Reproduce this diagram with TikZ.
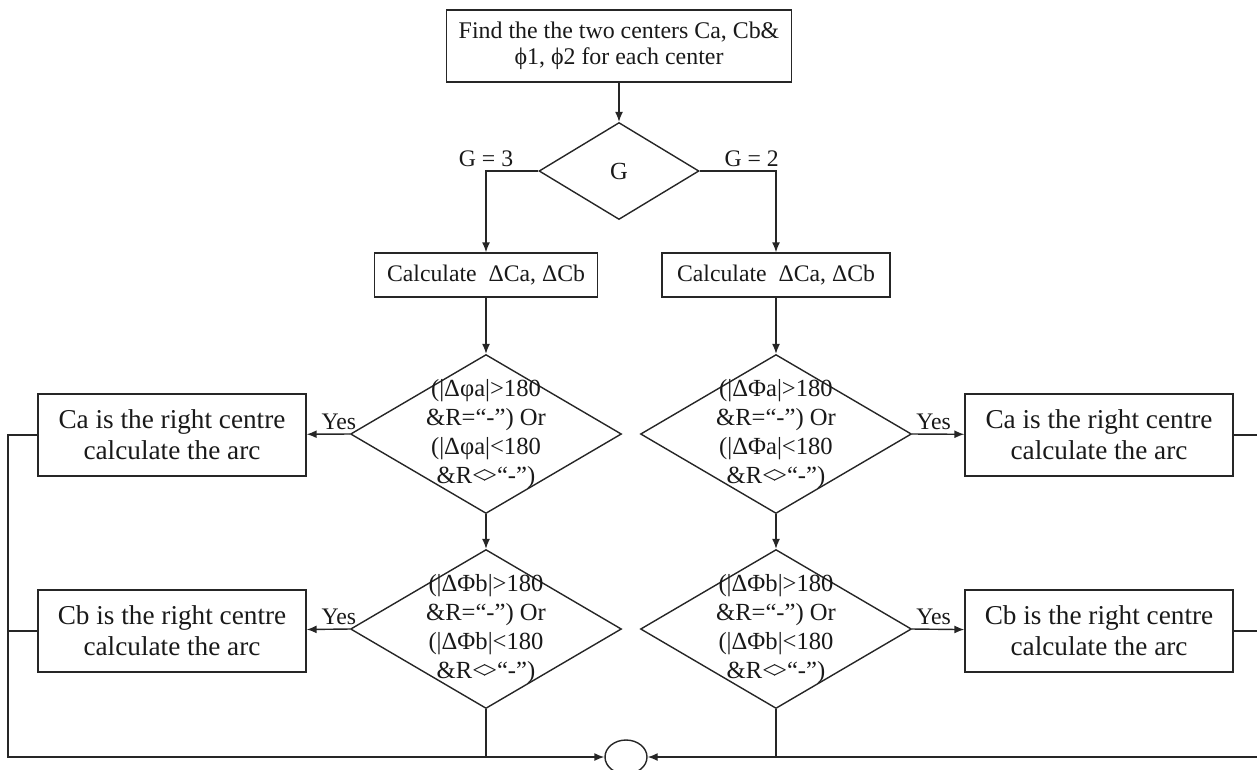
\documentclass[tikz,border=0pt]{standalone}
\usepackage{fontspec}
\setmainfont{Liberation Serif}
\usetikzlibrary{arrows.meta,positioning,shapes.geometric}

\begin{document}
\begin{tikzpicture}[x=0.02cm, y=-0.02cm,
  line/.style={draw=black!85, line width=0.8pt},
  arr/.style={line, -{Latex[length=2mm,width=1.6mm]}},
  box/.style={line, rectangle, align=center, inner sep=2pt, text=black!90},
  side/.style={box, minimum width=5.36cm, minimum height=1.64cm, font=\fontsize{15.5}{17.6}\selectfont},
  test/.style={line, diamond, inner sep=0pt, minimum width=5.42cm, minimum height=3.18cm},
  cond/.style={align=center, inner sep=0pt, text=black!90, font=\fontsize{14}{16.5}\selectfont},
  tag/.style={text=black!90, inner sep=2pt, font=\fontsize{13.5}{16}\selectfont}]
\useasboundingbox (0,0) rectangle (1257,769);
\clip (0,0) rectangle (1257,769);

% start and the G switch
\node[box, minimum width=6.9cm, minimum height=1.44cm, font=\fontsize{13.6}{14.8}\selectfont] (find) at (619,46) {Find the the two centers Ca, Cb\&\\ϕ1, ϕ2 for each center};
\node[line, diamond, inner sep=0pt, minimum width=3.2cm, minimum height=1.94cm, text=black!90, font=\fontsize{14}{16}\selectfont] (g) at (619,171) {G};
\node[box, minimum width=4.46cm, minimum height=0.88cm, font=\fontsize{13.5}{16}\selectfont] (calcL) at (486,275) {Calculate\ \ ΔCa, ΔCb};
\node[box, minimum width=4.56cm, minimum height=0.88cm, font=\fontsize{13.5}{16}\selectfont] (calcR) at (776,275) {Calculate\ \ ΔCa, ΔCb};

% the four tests
\foreach \n/\x/\y/\s in {qaL/486/434/φa, qaR/776/434/Φa, qbL/486/629/Φb, qbR/776/629/Φb}
  \node[test, label={[cond]center:{(|Δ\s|>180\\\&R=“-”) Or\\(|Δ\s|<180\\\&R<\kern-0.12em>“-”)}}] (\n) at (\x,\y) {};

% results
\foreach \n/\x/\y/\c in {caL/172/435/Ca, cbL/172/631/Cb, caR/1099/435/Ca, cbR/1099/631/Cb}
  \node[side] (\n) at (\x,\y) {\c\ is the right centre\\calculate the arc};

\node[line, ellipse, inner sep=0pt, minimum width=0.84cm, minimum height=0.68cm] (join) at (626,757) {};
\coordinate (back) at (8,0);
\coordinate (rim) at (1257,0);

\draw[arr] (find) -- (g);
\draw[arr] (g.west) -| (calcL) node[tag, pos=0.5, above] {G = 3};
\draw[arr] (g.east) -| (calcR) node[tag, pos=0.5, above left, xshift=4pt] {G = 2};
\foreach \s in {L,R} {
  \draw[arr] (calc\s) -- (qa\s);
  \draw[arr] (qa\s) -- (qb\s);
  \draw[line] (qb\s.south) -- (qb\s.south |- join);
}
\draw[arr] (qaL.west) -- (caL) node[tag, pos=0, above left, xshift=6pt] {Yes};
\draw[arr] (qbL.west) -- (cbL) node[tag, pos=0, above left, xshift=6pt] {Yes};
\draw[arr] (qaR.east) -- (caR) node[tag, pos=0, above right] {Yes};
\draw[arr] (qbR.east) -- (cbR) node[tag, pos=0, above right] {Yes};

% back to the join
\draw[arr] (caL.west) -- (caL.west -| back) |- (join.west);
\draw[line] (cbL.west) -- (cbL.west -| back);
\draw[line] (caR.east) -- (caR.east -| rim);
\draw[line] (cbR.east) -- (cbR.east -| rim);
\draw[arr] (join.east -| rim) -- (join.east);
\end{tikzpicture}
\end{document}
